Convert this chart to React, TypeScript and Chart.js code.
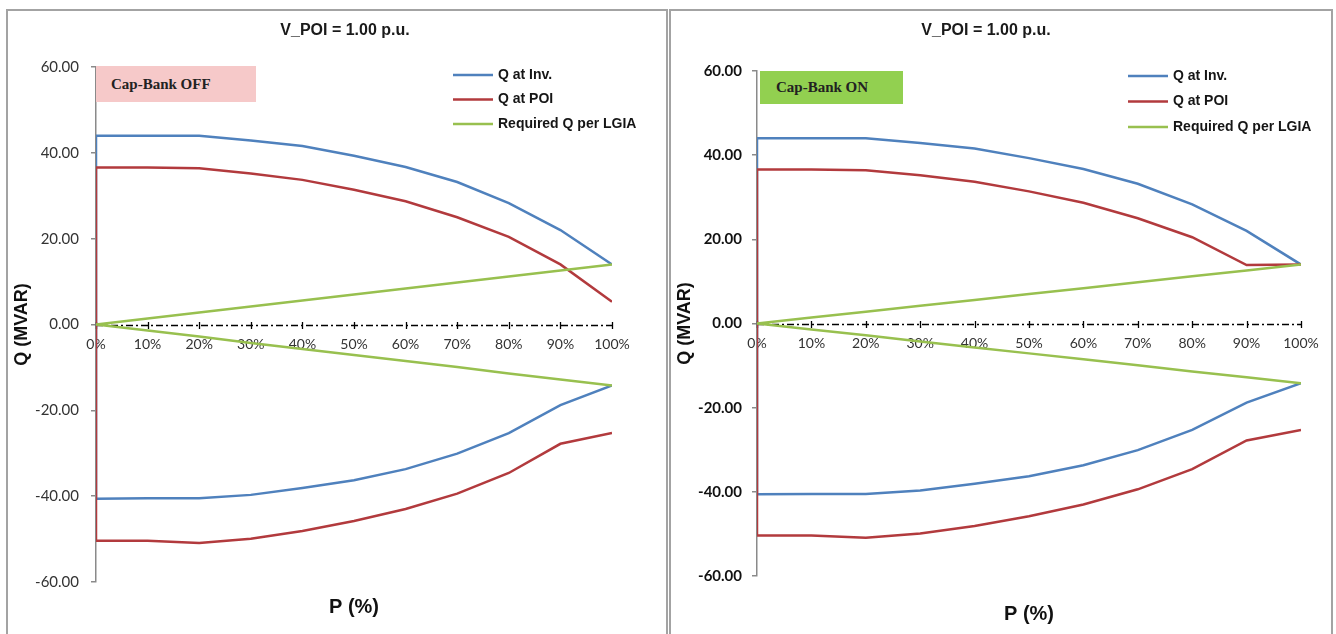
import React, { useEffect, useRef } from 'react';
import { Chart, registerables } from 'chart.js';

Chart.register(...registerables);

// ---------- data ----------
const P = [0, 10, 20, 30, 40, 50, 60, 70, 80, 90, 100];
const xTickLabels = ['0%', '10%', '20%', '30%', '40%', '50%', '60%', '70%', '80%', '90%', '100%'];
const yTickValues = [-60, -40, -20, 0, 20, 40, 60];
const yTickLabels = ['-60.00', '-40.00', '-20.00', '0.00', '20.00', '40.00', '60.00'];

const seriesNames = ['Q at Inv.', 'Q at POI', 'Required Q per LGIA'];
const chartTitle = 'V_POI = 1.00 p.u.';
const xTitle = 'P (%)';
const yTitle = 'Q (MVAR)';

const qInvUpper = [44.0, 44.0, 44.0, 42.9, 41.6, 39.3, 36.7, 33.2, 28.3, 22.0, 14.0];
const qInvLower = [-40.6, -40.5, -40.5, -39.7, -38.1, -36.3, -33.7, -30.1, -25.3, -18.8, -14.2];
const qPoiUpperOff = [36.6, 36.6, 36.4, 35.2, 33.7, 31.4, 28.7, 25.0, 20.4, 14.0, 5.3];
const qPoiUpperOn = [36.6, 36.6, 36.4, 35.2, 33.7, 31.4, 28.7, 25.0, 20.5, 13.9, 14.0];
const qPoiLower = [-50.4, -50.4, -50.9, -49.9, -48.1, -45.8, -43.0, -39.4, -34.6, -27.8, -25.3];
const qReqUpper = [0, 1.4, 2.8, 4.2, 5.6, 7.0, 8.4, 9.8, 11.2, 12.6, 14.0];
const qReqLower = [0, -1.4, -2.8, -4.3, -5.7, -7.1, -8.5, -9.9, -11.4, -12.8, -14.2];

const COLORS = ['#4F81BD', '#B23A3D', '#98C04F'];
const SANS = '"Liberation Sans", Arial, sans-serif';
const TICKF = 'Lato, "Liberation Sans", sans-serif';
const SERIF = '"Liberation Serif", "Times New Roman", serif';

// path: upper curve from 100% back to 0%, then lower curve from 0% to 100%
function loop(upper: number[], lower: number[]) {
  const pts: { x: number; y: number }[] = [];
  for (let i = upper.length - 1; i >= 0; i--) pts.push({ x: P[i], y: upper[i] });
  for (let i = 0; i < lower.length; i++) pts.push({ x: P[i], y: lower[i] });
  return pts;
}

// dash-dot horizontal axis line at Q = 0 with cross tick marks
const zeroAxis = {
  id: 'zeroAxis',
  beforeDatasetsDraw(chart: any) {
    const { ctx, chartArea, scales } = chart;
    const y0 = Math.round(scales.y.getPixelForValue(0)) + 0.5;
    ctx.save();
    ctx.strokeStyle = '#000';
    ctx.lineWidth = 1.5;
    ctx.setLineDash([7, 3, 2, 3]);
    ctx.beginPath();
    ctx.moveTo(chartArea.left, y0);
    ctx.lineTo(chartArea.right, y0);
    ctx.stroke();
    ctx.setLineDash([]);
    ctx.lineWidth = 1.3;
    scales.x.ticks.forEach((t: any) => {
      const x = Math.round(scales.x.getPixelForValue(t.value)) + 0.5;
      ctx.beginPath();
      ctx.moveTo(x, y0 - 3.5);
      ctx.lineTo(x, y0 + 3.5);
      ctx.stroke();
    });
    ctx.restore();
  },
};

const sideLegend = {
  id: 'sideLegend',
  afterDraw(chart: any, _args: any, opts: any) {
    const ctx = chart.ctx;
    ctx.save();
    chart.data.datasets.forEach((ds: any, i: number) => {
      const y = opts.y + i * opts.gap;
      ctx.strokeStyle = ds.borderColor;
      ctx.lineWidth = 2.5;
      ctx.beginPath();
      ctx.moveTo(opts.x, y);
      ctx.lineTo(opts.x + opts.len, y);
      ctx.stroke();
      ctx.fillStyle = '#151515';
      ctx.font = `bold 14px ${SANS}`;
      ctx.textBaseline = 'middle';
      ctx.textAlign = 'left';
      ctx.fillText(ds.label, opts.x + opts.len + 5, y);
    });
    ctx.restore();
  },
};

type PanelCfg = {
  left: number;
  width: number;
  W: number;
  padR: number;
  yWidth: number;
  rightWidth: number;
  titlePadBottom: number;
  xTitlePad: { top: number; bottom: number };
  yTitlePadTop: number;
  yTickBold: boolean;
  yTickPad: number;
  poiUpper: number[];
  legend: { x: number; y: number; gap: number; len: number };
  box: { text: string; left: number; top: number; w: number; h: number; color: string; padL: number };
};

function Panel({ cfg }: { cfg: PanelCfg }) {
  const ref = useRef<HTMLCanvasElement>(null);
  useEffect(() => {
    const datasets = [
      { label: seriesNames[0], data: loop(qInvUpper, qInvLower), borderColor: COLORS[0], order: 3 },
      { label: seriesNames[1], data: loop(cfg.poiUpper, qPoiLower), borderColor: COLORS[1], order: 2 },
      { label: seriesNames[2], data: loop(qReqUpper, qReqLower), borderColor: COLORS[2], order: 1 },
    ].map((d) => ({
      ...d,
      showLine: true,
      borderWidth: 2.5,
      pointRadius: 0,
      pointHoverRadius: 0,
      tension: 0,
      fill: false,
      xAxisID: 'x',
      yAxisID: 'y',
    }));

    const scales: any = {
      x: {
        type: 'linear',
        position: { y: 0 },
        min: 0,
        max: 100,
        ticks: {
          stepSize: 10,
          autoSkip: false,
          maxRotation: 0,
          padding: 12,
          color: '#333',
          font: { family: TICKF, size: 14 },
          callback: (v: number) => xTickLabels[P.indexOf(v)] ?? '',
        },
        grid: { display: false, drawOnChartArea: false, drawTicks: false },
        border: { display: false },
      },
      x2: {
        type: 'linear',
        position: 'bottom',
        display: true,
        grid: { display: false },
        ticks: { display: false },
        border: { display: false },
        title: {
          display: true,
          text: xTitle,
          color: '#111',
          font: { family: SANS, size: 20, weight: 'bold' },
          padding: cfg.xTitlePad,
        },
      },
      y: {
        type: 'linear',
        position: 'left',
        min: -60,
        max: 60,
        afterFit: (s: any) => {
          s.width = cfg.yWidth;
        },
        ticks: {
          stepSize: 20,
          padding: cfg.yTickPad,
          color: cfg.yTickBold ? '#111' : '#333',
          font: { family: TICKF, size: 15, weight: cfg.yTickBold ? 'bold' : 'normal' },
          callback: (v: number) => yTickLabels[yTickValues.indexOf(v)] ?? '',
        },
        grid: { drawOnChartArea: false, drawTicks: true, tickLength: 5, color: '#8a8a8a', lineWidth: 1.5 },
        border: { display: true, color: '#8a8a8a', width: 1.5 },
        title: {
          display: true,
          text: yTitle,
          color: '#111',
          font: { family: SANS, size: 18, weight: 'bold' },
          padding: { top: cfg.yTitlePadTop, bottom: 0 },
        },
      },
    };
    if (cfg.rightWidth > 0) {
      scales.y2 = {
        type: 'linear',
        position: 'right',
        display: true,
        grid: { display: false },
        ticks: { display: false },
        border: { display: false },
        afterFit: (s: any) => {
          s.width = cfg.rightWidth;
        },
      };
    }

    const chart = new Chart(ref.current as HTMLCanvasElement, {
      type: 'scatter',
      data: { datasets } as any,
      options: {
        responsive: false,
        maintainAspectRatio: false,
        animation: false,
        layout: { padding: { left: 0, right: cfg.padR, top: 0, bottom: 0 } },
        plugins: {
          legend: { display: false },
          tooltip: { enabled: false },
          title: {
            display: true,
            text: chartTitle,
            color: '#1a1a1a',
            font: { family: SANS, size: 16, weight: 'bold' },
            padding: { top: 10.4, bottom: cfg.titlePadBottom },
          },
          sideLegend: cfg.legend,
        } as any,
        scales,
      } as any,
      plugins: [zeroAxis as any, sideLegend as any],
    });
    return () => chart.destroy();
  }, []);

  const b = cfg.box;
  return (
    <div
      style={{
        position: 'absolute',
        left: cfg.left,
        top: 9,
        width: cfg.width,
        height: 700,
        border: '2px solid #a3a3a3',
        boxSizing: 'border-box',
        background: '#fff',
      }}
    >
      <canvas
        ref={ref}
        width={cfg.W}
        height={623}
        style={{ position: 'absolute', left: 0, top: 0, width: cfg.W, height: 623, display: 'block' }}
      />
      <div
        style={{
          position: 'absolute',
          left: b.left,
          top: b.top,
          width: b.w,
          height: b.h,
          background: b.color,
          boxSizing: 'border-box',
          paddingLeft: b.padL,
          display: 'flex',
          alignItems: 'center',
          fontFamily: SERIF,
          fontWeight: 'bold',
          fontSize: 15,
          color: '#222',
          whiteSpace: 'nowrap',
        }}
      >
        {b.text}
      </div>
    </div>
  );
}

const leftCfg: PanelCfg = {
  left: 6,
  width: 662,
  W: 674,
  padR: 0,
  yWidth: 88,
  rightWidth: 70,
  titlePadBottom: 26.4,
  xTitlePad: { top: 5, bottom: 15 },
  yTitlePadTop: 3,
  yTickBold: false,
  yTickPad: 12,
  poiUpper: qPoiUpperOff,
  legend: { x: 445, y: 64, gap: 24.5, len: 40 },
  box: { text: 'Cap-Bank OFF', left: 88, top: 55, w: 160, h: 36, color: '#F6C9C9', padL: 15 },
};

const rightCfg: PanelCfg = {
  left: 669,
  width: 664,
  W: 660,
  padR: 30,
  yWidth: 86,
  rightWidth: 0,
  titlePadBottom: 30.4,
  xTitlePad: { top: 18, bottom: 8 },
  yTitlePadTop: 3,
  yTickBold: true,
  yTickPad: 10,
  poiUpper: qPoiUpperOn,
  legend: { x: 457, y: 65, gap: 25.5, len: 40 },
  box: { text: 'Cap-Bank ON', left: 89, top: 60, w: 143, h: 33, color: '#92D050', padL: 16 },
};

export default function App() {
  return (
    <div
      style={{
        position: 'fixed',
        left: 0,
        top: 0,
        width: 1336,
        height: 634,
        overflow: 'hidden',
        background: '#fff',
      }}
    >
      <Panel cfg={leftCfg} />
      <Panel cfg={rightCfg} />
    </div>
  );
}
